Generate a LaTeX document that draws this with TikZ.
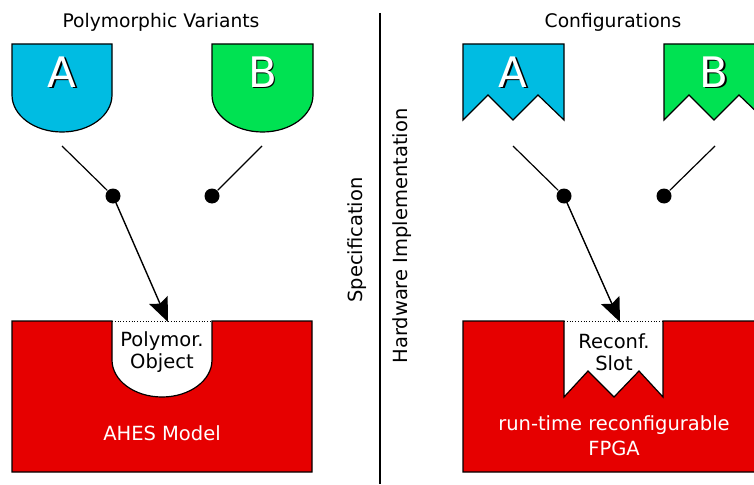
\documentclass[tikz,border=0pt]{standalone}
\usepackage{fontspec}
\setmainfont{DejaVu Sans}
\usetikzlibrary{arrows.meta, positioning, calc}

\definecolor{variantA}{RGB}{0,188,226}
\definecolor{variantB}{RGB}{0,226,82}
\definecolor{hwred}{RGB}{230,0,0}

\begin{document}
\begin{tikzpicture}[
        x=1pt, y=-1pt,
        line width=1.2pt,
        title/.style={font=\fontsize{18.7}{22}\selectfont, inner sep=0pt},
        caption/.style={font=\fontsize{19.5}{22}\selectfont, align=center, inner sep=0pt},
        letter/.style={font=\fontsize{42}{42}\selectfont, text=white, inner sep=0pt},
        letter_shadow/.style={font=\fontsize{42}{42}\selectfont, text=black, inner sep=0pt},
        variant/.style={draw=black, line width=1.2pt},
        contact/.style={circle, fill=black, inner sep=0pt, minimum size=15pt},
        flow/.style={-{Stealth[length=24pt, width=20pt, inset=4pt]}, line width=1.4pt},
        board/.style={draw=black, fill=hwred, line width=1.2pt},
        opening/.style={dotted, line width=0.8pt}
    ]
    \clip (0,0) rectangle (754,484);

    % --- Left: Specification ---
    \node[title] (polytitle) at (161,22) {Polymorphic Variants};

    \draw[variant, fill=variantA] (12,44) -- (112,44) -- (112,95)
        arc[start angle=0, end angle=180, x radius=50, y radius=37] -- cycle;
    \node[letter_shadow] (shadowA) at (63.5,73.5) {A};
    \node[letter] (varA) at (62,72) {A};

    \draw[variant, fill=variantB] (212,44) -- (313,44) -- (313,95)
        arc[start angle=0, end angle=180, x radius=50.5, y radius=37] -- cycle;
    \node[letter_shadow] (shadowB) at (264,73.5) {B};
    \node[letter] (varB) at (262.5,72) {B};

    % switch
    \coordinate (leverA) at (62,146);
    \coordinate (leverB) at (262,146);
    \node[contact] (swA) at (113,196) {};
    \node[contact] (swB) at (212,196) {};
    \draw (leverA) -- (swA);
    \draw (leverB) -- (swB);

    % model with polymorphic object
    \draw[board] (12,321) -- (112,321) -- (112,360)
        arc[start angle=180, end angle=0, x radius=50, y radius=37]
        -- (212,321) -- (312,321) -- (312,472) -- (12,472) -- cycle;
    \coordinate (polyL) at (112,321);
    \coordinate (polyR) at (212,321);
    \coordinate (polyin) at (168,322);
    \draw[opening] (polyL) -- (polyR);
    \draw[flow] (swA.center) -- (polyin);
    \node[caption] (polyobj) at (162,352) {Polymor.\\Object};
    \node[caption, text=white] (ahes) at (162,433) {AHES Model};

    % --- Middle ---
    \coordinate (divtop) at (380,13);
    \coordinate (divbot) at (380,484);
    \draw (divtop) -- (divbot);
    \node[caption, rotate=90] (spec) at (357,240) {Specification};
    \node[caption, rotate=90] (hwimpl) at (402,236) {Hardware Implementation};

    % --- Right: Hardware Implementation ---
    \begin{scope}[xshift=451pt]
        \node[title] (conftitle) at (162,22) {Configurations};

        \draw[variant, fill=variantA] (12,44) -- (113,44) -- (113,120)
            -- (87,95) -- (62,120) -- (37,95) -- (12,120) -- cycle;
        \node[letter_shadow] (shadowCA) at (63.5,73.5) {A};
        \node[letter] (confA) at (62,72) {A};

        \draw[variant, fill=variantB] (213,44) -- (314,44) -- (314,120)
            -- (288,95) -- (263,120) -- (238,95) -- (213,120) -- cycle;
        \node[letter_shadow] (shadowCB) at (264.5,73.5) {B};
        \node[letter] (confB) at (263,72) {B};

        % switch
        \coordinate (leverCA) at (62,146);
        \coordinate (leverCB) at (264,146);
        \node[contact] (swCA) at (113,196) {};
        \node[contact] (swCB) at (213,196) {};
        \draw (leverCA) -- (swCA);
        \draw (leverCB) -- (swCB);

        % fpga with reconfigurable slot
        \draw[board] (12,321) -- (113,321) -- (113,397) -- (137,371)
            -- (163,397) -- (188,371) -- (212,397) -- (212,321)
            -- (313,321) -- (313,472) -- (12,472) -- cycle;
        \coordinate (slotL) at (113,321);
        \coordinate (slotR) at (212,321);
        \coordinate (slotin) at (169,322);
        \draw[opening] (slotL) -- (slotR);
        \draw[flow] (swCA.center) -- (slotin);
        \node[caption] (reconf) at (163,352) {Reconf.\\Slot};
        \node[caption, text=white] (fpga) at (163,436) {run-time reconfigurable\\[3pt]FPGA};
    \end{scope}

\end{tikzpicture}
\end{document}
